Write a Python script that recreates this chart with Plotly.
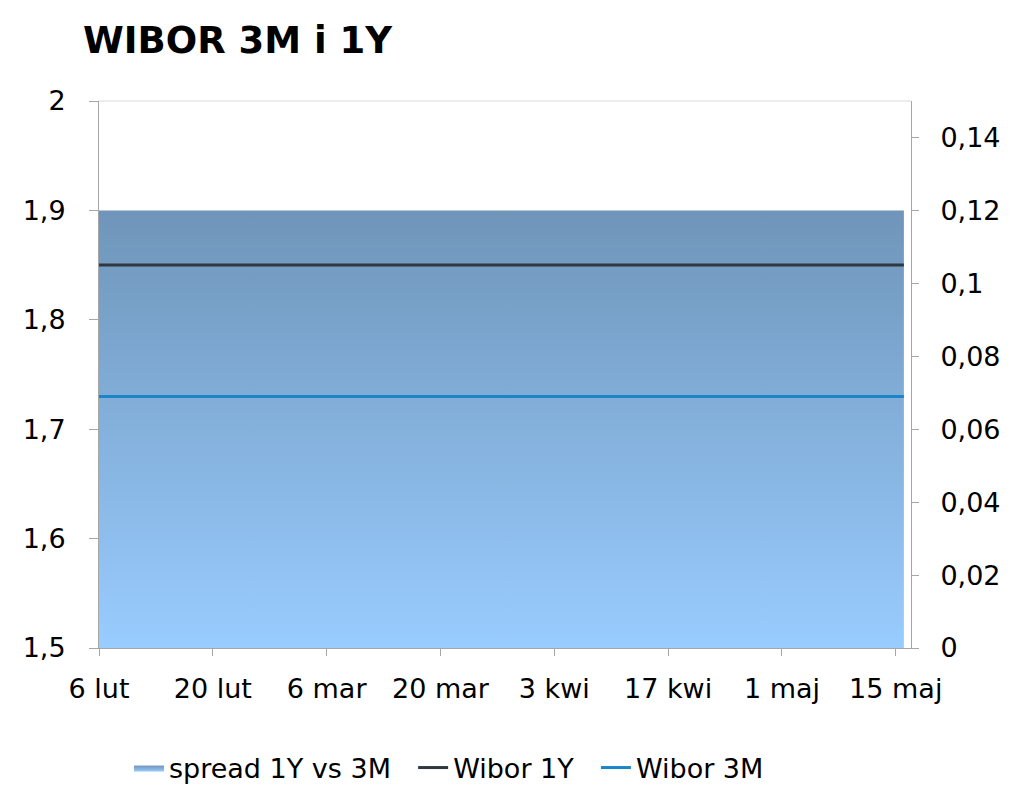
import plotly.graph_objects as go

# ---- data ----
dates = ["2017-02-06", "2017-02-13", "2017-02-20", "2017-02-27", "2017-03-06",
         "2017-03-13", "2017-03-20", "2017-03-27", "2017-04-03", "2017-04-10",
         "2017-04-18", "2017-04-24", "2017-05-01", "2017-05-08", "2017-05-15",
         "2017-05-16"]
wibor_1y = [1.85, 1.85, 1.85, 1.85, 1.85, 1.85, 1.85, 1.85, 1.85, 1.85,
            1.85, 1.85, 1.85, 1.85, 1.85, 1.85]
wibor_3m = [1.73, 1.73, 1.73, 1.73, 1.73, 1.73, 1.73, 1.73, 1.73, 1.73,
            1.73, 1.73, 1.73, 1.73, 1.73, 1.73]
spread = [0.12, 0.12, 0.12, 0.12, 0.12, 0.12, 0.12, 0.12, 0.12, 0.12,
          0.12, 0.12, 0.12, 0.12, 0.12, 0.12]

x_tick_vals = ["2017-02-06", "2017-02-20", "2017-03-06", "2017-03-20",
               "2017-04-03", "2017-04-17", "2017-05-01", "2017-05-15"]
x_tick_text = ["6 lut", "20 lut", "6 mar", "20 mar", "3 kwi", "17 kwi", "1 maj", "15 maj"]

FONT = "DejaVu Sans"
AXIS_COL = "#a6a6a6"
W, H = 1016, 783
GAP = "\u00a0\u00a0"

fig = go.Figure()

fig.add_trace(go.Scatter(
    x=dates, y=spread, name="spread 1Y vs 3M" + GAP, mode="lines",
    line=dict(width=0, shape="hv"), fill="tozeroy",
    fillgradient=dict(type="vertical",
                      colorscale=[[0, "#99ccff"], [1, "#6f95b9"]]),
    yaxis="y", xaxis="x",
))
fig.add_trace(go.Scatter(
    x=dates, y=wibor_1y, name="Wibor 1Y" + GAP, mode="lines",
    line=dict(color="#2f3740", width=3), yaxis="y2",
))
fig.add_trace(go.Scatter(
    x=dates, y=wibor_3m, name="Wibor 3M", mode="lines",
    line=dict(color="#1a85c9", width=3), yaxis="y2",
))

fig.update_layout(
    width=W, height=H,
    margin=dict(l=91, r=113, t=93, b=143),
    paper_bgcolor="white", plot_bgcolor="white",
    separators=", ",
    font=dict(family=FONT, size=27, color="#000000"),
    title=dict(text="<b>WIBOR 3M i 1Y</b>", x=75 / W, xanchor="left",
               y=1 - 45 / H, yanchor="bottom", yref="container",
               font=dict(family=FONT, size=37, color="#000000")),
    showlegend=True,
    legend=dict(orientation="h", xref="container", yref="container",
                x=441 / W, xanchor="center", y=1 - 760 / H, yanchor="middle",
                font=dict(family=FONT, size=27), itemwidth=30,
                traceorder="normal", bgcolor="rgba(0,0,0,0)"),
    xaxis=dict(type="date", range=["2017-02-06", "2017-05-16 21:00"],
               tickvals=x_tick_vals, ticktext=x_tick_text,
               showgrid=False, zeroline=False,
               showline=True, linecolor=AXIS_COL, linewidth=1,
               ticks="outside", ticklen=7, tickcolor=AXIS_COL,
               ticklabelstandoff=10,
               tickfont=dict(family=FONT, size=27)),
    yaxis=dict(side="right", range=[0, 0.15], tickvals=[0, 0.02, 0.04, 0.06, 0.08, 0.1, 0.12, 0.14],
               showgrid=False, zeroline=False,
               showline=True, linecolor=AXIS_COL, linewidth=1,
               ticks="outside", ticklen=7, tickcolor=AXIS_COL,
               ticklabelstandoff=16,
               tickfont=dict(family=FONT, size=27)),
    yaxis2=dict(side="left", overlaying="y", range=[1.5, 2.0],
                tickvals=[1.5, 1.6, 1.7, 1.8, 1.9, 2.0],
                showgrid=False, zeroline=False,
                showline=True, linecolor=AXIS_COL, linewidth=1, mirror=False,
                ticks="outside", ticklen=9, tickcolor=AXIS_COL,
                ticklabelstandoff=18,
                tickfont=dict(family=FONT, size=27)),
    shapes=[dict(type="line", xref="paper", yref="paper", x0=0, x1=1, y0=1, y1=1,
                 line=dict(color="#d9d9d9", width=1))],
)

fig.write_html("out.html")
